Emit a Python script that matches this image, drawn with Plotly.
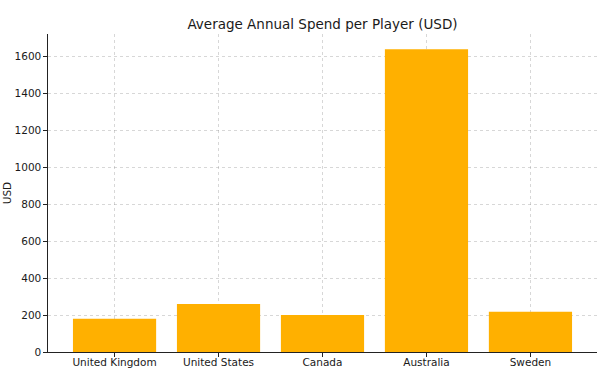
import plotly.graph_objects as go

countries = ["United Kingdom", "United States", "Canada", "Australia", "Sweden"]
spend = [180, 260, 200, 1637, 218]
y_ticks = [0, 200, 400, 600, 800, 1000, 1200, 1400, 1600]

fig = go.Figure(go.Bar(
    x=countries, y=spend, width=0.8,
    marker=dict(color="#FFB000", line=dict(width=0)),
))

font = "DejaVu Sans, Verdana, sans-serif"
grid = "rgba(140,140,140,0.35)"
fig.update_layout(
    width=602, height=385,
    margin=dict(l=48, r=5, t=34, b=33),
    paper_bgcolor="white", plot_bgcolor="white",
    font=dict(family=font, size=10.5, color="#1a1a1a"),
    title=dict(text="Average Annual Spend per Player (USD)", x=0.5, xref="paper", xanchor="center",
               y=1 - 24/385, yanchor="middle", font=dict(size=13.5, color="#1a1a1a")),
    showlegend=False,
)
fig.update_xaxes(
    range=[-0.64, 4.64], showline=True, linecolor="#222", linewidth=1.2,
    ticks="outside", ticklen=3.5, tickcolor="#222", automargin=False,
    showgrid=True, gridcolor=grid, griddash="dot", gridwidth=1,
    layer="above traces", tickfont=dict(size=10.5), ticklabelstandoff=-3,
)
fig.update_yaxes(
    range=[0, 1719], tickvals=y_ticks, showline=True, linecolor="#222", linewidth=1.2,
    ticks="outside", ticklen=3.5, tickcolor="#222", automargin=False,
    showgrid=True, gridcolor=grid, griddash="dot", gridwidth=1,
    zeroline=False, layer="above traces",
    title=dict(text="USD", standoff=0, font=dict(size=10.5)), tickfont=dict(size=10.5),
)
fig.write_html("out.html")
